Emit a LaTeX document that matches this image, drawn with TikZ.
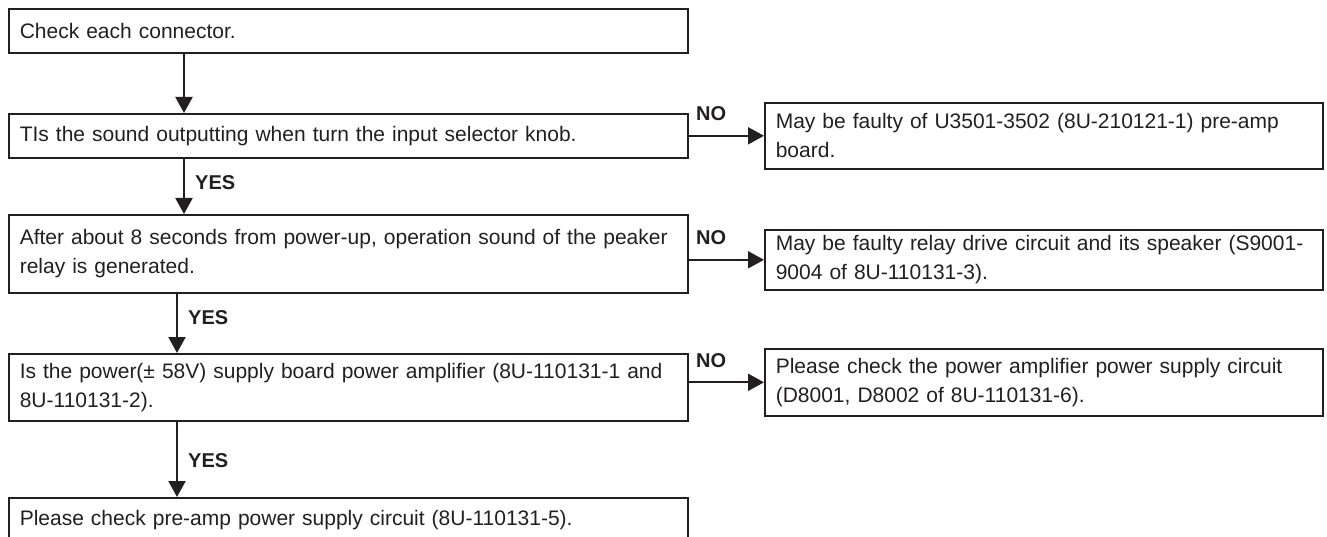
\documentclass[tikz,border=0pt]{standalone}
\usepackage{fontspec}
\setmainfont{Liberation Sans}
\usetikzlibrary{arrows.meta}
\definecolor{ink}{HTML}{231F20}
\begin{document}
\begin{tikzpicture}[x=1pt,y=-1pt,
  box/.style={draw=ink, line width=1.6pt, rectangle, anchor=north west,
    inner xsep=11pt, inner ysep=0pt, align=left,
    font=\fontsize{21}{29}\selectfont, text=ink},
  leftbox/.style={box, text width=657pt},
  rightbox/.style={box, text width=536pt},
  flow/.style={draw=ink, line width=2pt, -{Triangle[width=17pt,length=16pt]}},
  lbl/.style={font=\fontsize{20}{24}\selectfont\bfseries, text=ink, inner sep=0pt, anchor=west}]
\useasboundingbox (0,0) rectangle (1327,537);
\clip (0,0) rectangle (1327,537);

\node[leftbox, minimum height=44pt] (b1) at (8,8) {Check each connector.};
\node[leftbox, minimum height=44pt] (b2) at (8,113) {TIs the sound outputting when turn the input selector knob.};
\node[leftbox, minimum height=78pt] (b3) at (8,214) {After about 8 seconds from power-up, operation sound of the peaker\\relay is generated.};
\node[leftbox, minimum height=67pt] (b4) at (8,353) {Is the power(± 58V) supply board power amplifier (8U-110131-1 and\\8U-110131-2).};
\node[leftbox, minimum height=44pt] (b5) at (8,497) {Please check pre-amp power supply circuit (8U-110131-5).};

\node[rightbox, minimum height=66pt] (r1) at (764,102) {May be faulty of U3501-3502 (8U-210121-1) pre-amp\\board.};
\node[rightbox, minimum height=60pt] (r2) at (764,229) {May be faulty relay drive circuit and its speaker (S9001-\\9004 of 8U-110131-3).};
\node[rightbox, minimum height=67pt] (r3) at (764,348) {Please check the power amplifier power supply circuit\\(D8001, D8002 of 8U-110131-6).};

\draw[flow] ([xshift=176pt]b1.south west) -- ([xshift=176pt]b2.north west);
\draw[flow] ([xshift=176pt]b2.south west) -- ([xshift=176pt]b3.north west);
\draw[flow] ([xshift=169pt]b3.south west) -- ([xshift=169pt]b4.north west);
\draw[flow] ([xshift=169pt]b4.south west) -- ([xshift=169pt]b5.north west);

\draw[flow] (r1.west -| b2.east) -- (r1.west);
\draw[flow] (r2.west -| b3.east) -- (r2.west);
\draw[flow] (r3.west -| b4.east) -- (r3.west);

\node[lbl] (y1) at ([xshift=187pt,yshift=-24pt]b2.south west) {YES};
\node[lbl] (y2) at ([xshift=180pt,yshift=-24pt]b3.south west) {YES};
\node[lbl] (y3) at ([xshift=180pt,yshift=-39pt]b4.south west) {YES};

\node[lbl] (n1) at ([xshift=-68pt,yshift=22pt]r1.west) {NO};
\node[lbl] (n2) at ([xshift=-68pt,yshift=22pt]r2.west) {NO};
\node[lbl] (n3) at ([xshift=-68pt,yshift=22pt]r3.west) {NO};
\end{tikzpicture}
\end{document}
